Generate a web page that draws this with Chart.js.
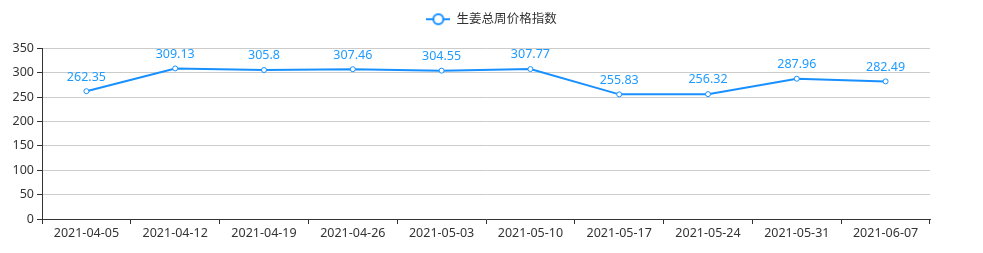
<!DOCTYPE html>
<html>
<head>
<meta charset="utf-8">
<script src="https://cdn.jsdelivr.net/npm/chart.js@4"></script>
<style>
  html, body { margin: 0; padding: 0; background: #fff; }
  #wrap { width: 983px; height: 253px; }
</style>
</head>
<body>
<div id="wrap"><canvas id="priceChart"></canvas></div>
<script>
const weeks = ['2021-04-05', '2021-04-12', '2021-04-19', '2021-04-26', '2021-05-03',
    '2021-05-10', '2021-05-17', '2021-05-24', '2021-05-31', '2021-06-07'];
const priceIndex = [262.35, 309.13, 305.8, 307.46, 304.55, 307.77, 255.83, 256.32, 287.96, 282.49];
const seriesName = '生姜总周价格指数';

const blue = '#1890ff';
const fontFamily = '"Noto Sans", "Noto Sans CJK SC", sans-serif';

// legend icon: short line with hollow circle
const makeIcon = () => {
    const c = document.createElement('canvas');
    c.width = 24; c.height = 14;
    const g = c.getContext('2d');
    g.strokeStyle = blue;
    g.lineWidth = 2;
    g.beginPath(); g.moveTo(0, 7); g.lineTo(24, 7); g.stroke();
    g.fillStyle = '#fff';
    g.beginPath(); g.arc(12, 7, 5, 0, Math.PI * 2); g.fill(); g.stroke();
    return c;
}

// extra gap under the legend
const legendGap = {
    id: 'legendGap',
    beforeInit(chart) {
        const fit = chart.legend.fit;
        chart.legend.fit = function () {
            fit.call(this);
            this.height += 13;
        };
    }
};

const valueLabels = {
    id: 'valueLabels',
    afterDatasetsDraw(chart) {
        const ctx = chart.ctx;
        const meta = chart.getDatasetMeta(0);
        ctx.save();
        ctx.font = '12.5px ' + fontFamily;
        ctx.fillStyle = '#1e9bff';
        ctx.textAlign = 'center';
        ctx.textBaseline = 'bottom';
        meta.data.forEach((pt, i) => {
            ctx.fillText(priceIndex[i], pt.x, pt.y - 8);
        });
        ctx.restore();
    }
};

const ctx = document.getElementById('priceChart').getContext('2d');
const chart = new Chart(ctx, {
    type: 'line',
    data: {
        labels: weeks,
        datasets: [{
            label: seriesName,
            data: priceIndex,
            borderColor: blue,
            borderWidth: 2,
            backgroundColor: '#fff',
            pointBackgroundColor: '#fff',
            pointBorderColor: blue,
            pointBorderWidth: 1,
            pointRadius: 2.5,
            pointStyle: 'circle',
            tension: 0
        }]
    },
    options: {
        responsive: true,
        maintainAspectRatio: false,
        animation: false,
        layout: {
            padding: { left: 0, right: 0, top: 3, bottom: 10 }
        },
        scales: {
            x: {
                offset: true,
                grid: {
                    offset: true,
                    drawOnChartArea: false,
                    color: '#333',
                    tickLength: 5
                },
                border: { color: '#333', width: 1 },
                ticks: {
                    color: '#333',
                    font: { size: 12.5, family: fontFamily },
                    maxRotation: 0,
                    autoSkip: false,
                    padding: 2
                }
            },
            y: {
                min: 0,
                max: 350,
                afterFit: (scale) => { scale.width = 42; },
                grid: {
                    color: '#ccc',
                    tickColor: '#333',
                    tickLength: 5
                },
                border: { color: '#333', width: 1 },
                ticks: {
                    stepSize: 50,
                    color: '#333',
                    font: { size: 12.5, family: fontFamily },
                    padding: 3
                }
            },
            // empty right axis, only keeps the margin
            spacer: {
                type: 'linear',
                position: 'right',
                grid: { display: false },
                border: { display: false },
                ticks: { display: false },
                afterFit: (scale) => { scale.width = 53; }
            }
        },
        plugins: {
            legend: {
                position: 'top',
                labels: {
                    usePointStyle: true,
                    pointStyle: makeIcon(),
                    pointStyleWidth: 24,
                    color: '#333',
                    font: { size: 12.5, family: fontFamily },
                    padding: 10
                }
            },
            tooltip: { enabled: false }
        }
    },
    plugins: [legendGap, valueLabels]
});
</script>
</body>
</html>
